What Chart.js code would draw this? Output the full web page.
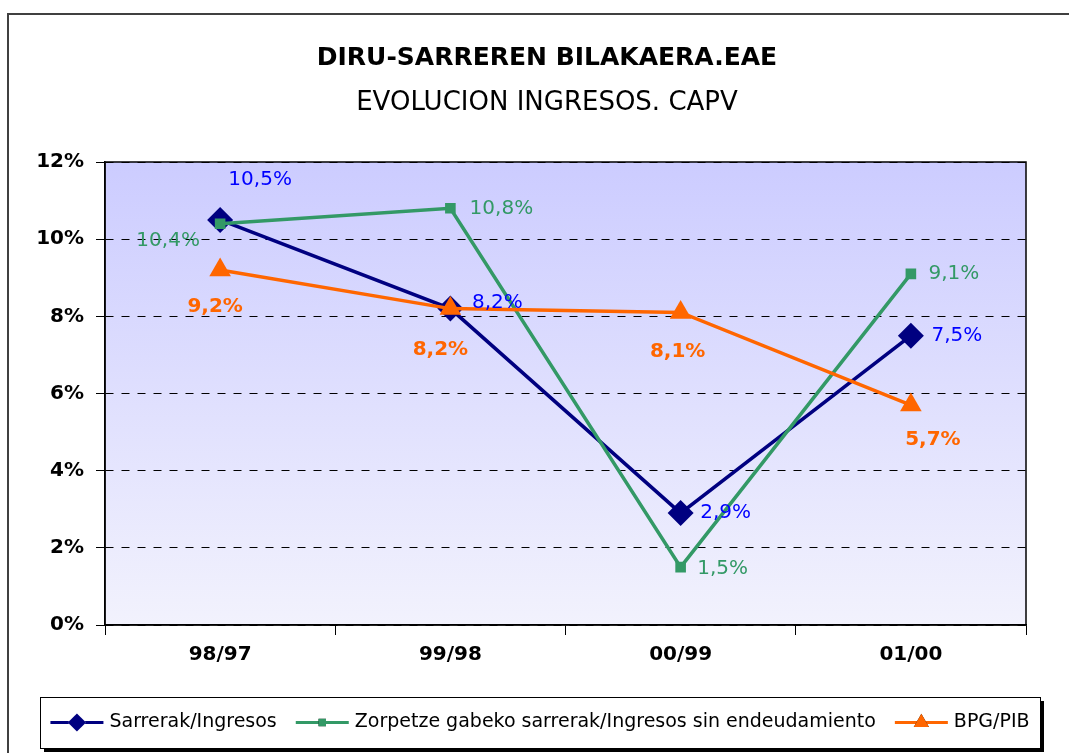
<!DOCTYPE html>
<html>
<head>
<meta charset="utf-8">
<script src="https://cdn.jsdelivr.net/npm/chart.js@4.4.0/dist/chart.umd.min.js"></script>
<style>
  body { margin: 0; background: #fff; }
  canvas { display: block; }
</style>
</head>
<body>
<canvas id="lineChart" width="1069" height="753"></canvas>
<script>
// Chart data

const categories = ['98/97', '99/98', '00/99', '01/00'];
const sarrerak = [10.5, 8.2, 2.9, 7.5];
const zorpetzeGabe = [10.4, 10.8, 1.5, 9.1];
const bpgPib = [9.2, 8.2, 8.1, 5.7];
const seriesNames = [
    'Sarrerak/Ingresos',
    'Zorpetze gabeko sarrerak/Ingresos sin endeudamiento',
    'BPG/PIB',
];
const yTicks = [0, 2, 4, 6, 8, 10, 12];
const titleText = 'DIRU-SARREREN BILAKAERA.EAE';
const subtitleText = 'EVOLUCION INGRESOS. CAPV';

const FONT = "'DejaVu Sans', sans-serif";

// label offsets (px) relative to each point, per dataset
const labelOffsets = [
    [[40, -40], [47, -6], [45, 0], [46, 0]],
    [[-52, 17], [51, 0], [42, 2], [43, 0]],
    [[-5, 37], [-10, 41], [-3, 39], [22, 35]],
];
const labelStyles = [
    { color: '#0000FF', weight: 'normal' },
    { color: '#339966', weight: 'normal' },
    { color: '#FF6600', weight: 'bold' },
];

function fmt(v) {
    return v.toFixed(1).replace('.', ',') + '%';
}

const backgroundPlugin = {
    id: 'background',
    beforeDraw(chart) {
        const { ctx, chartArea: a } = chart;
        ctx.save();
        ctx.fillStyle = '#fff';
        ctx.fillRect(0, 0, chart.width, chart.height);
        const g = ctx.createLinearGradient(0, a.top, 0, a.bottom);
        g.addColorStop(0, '#CCCCFF');
        g.addColorStop(1, '#F2F2FD');
        ctx.fillStyle = g;
        ctx.fillRect(a.left, a.top, a.right - a.left, a.bottom - a.top);
        // outer frame
        ctx.strokeStyle = '#404040';
        ctx.lineWidth = 2;
        ctx.strokeRect(8, 14, 1200, 900);

        // titles
        ctx.fillStyle = '#000';
        ctx.textAlign = 'center';
        ctx.textBaseline = 'middle';
        ctx.font = 'bold 25px ' + FONT;
        ctx.fillText(titleText, 547, 58);
        ctx.font = '26px ' + FONT;
        ctx.fillText(subtitleText, 547, 103);
        ctx.restore();
    },
    beforeDatasetsDraw(chart) {
        const { ctx, chartArea: a } = chart;
        ctx.save();
        ctx.strokeStyle = '#000';
        ctx.lineWidth = 1.5;
        ctx.strokeRect(a.left, a.top, a.right - a.left, a.bottom - a.top);
        ctx.restore();
    }
};

const labelPlugin = {
    id: 'valueLabels',
    afterDatasetsDraw(chart) {
        const ctx = chart.ctx;
        ctx.save();
        ctx.textAlign = 'center';
        ctx.textBaseline = 'middle';
        chart.data.datasets.forEach((ds, di) => {
            const meta = chart.getDatasetMeta(di);
            const st = labelStyles[di];
            ctx.fillStyle = st.color;
            ctx.font = st.weight + ' 20px ' + FONT;
            meta.data.forEach((pt, i) => {
                const off = labelOffsets[di][i];
                ctx.fillText(fmt(ds.data[i]), pt.x + off[0], pt.y + off[1]);
            });
        });
        ctx.restore();
    }
};

const legendPlugin = {
    id: 'boxLegend',
    afterDraw(chart) {
        const ctx = chart.ctx;
        const box = { x: 40, y: 697, w: 1000, h: 51 };
        ctx.save();
        ctx.fillStyle = '#000';
        ctx.fillRect(box.x + 4, box.y + 4, box.w, box.h);
        ctx.fillStyle = '#fff';
        ctx.fillRect(box.x, box.y, box.w, box.h);
        ctx.strokeStyle = '#000';
        ctx.lineWidth = 1;
        ctx.strokeRect(box.x + 0.5, box.y + 0.5, box.w, box.h);

        ctx.font = '19px ' + FONT;
        const lineLen = 53, gapText = 6, gapItem = 19;
        const widths = seriesNames.map(n => ctx.measureText(n).width);
        const total = widths.reduce((s, w) => s + lineLen + gapText + w, 0) + gapItem * (seriesNames.length - 1);
        let x = box.x + (box.w - total) / 2;
        const cy = box.y + box.h / 2;
        chart.data.datasets.forEach((ds, i) => {
            ctx.strokeStyle = ds.borderColor;
            ctx.lineWidth = 3;
            ctx.beginPath();
            ctx.moveTo(x, cy);
            ctx.lineTo(x + lineLen, cy);
            ctx.stroke();
            Chart.helpers.drawPoint(ctx, {
                pointStyle: ds.pointStyle,
                radius: ds.pointRadius * 0.7,
                rotation: 0,
                borderWidth: 0,
            }, x + lineLen / 2, cy);
            ctx.fillStyle = ds.pointBackgroundColor;
            ctx.fill();
            ctx.fillStyle = '#000';
            ctx.textBaseline = 'middle';
            ctx.textAlign = 'left';
            ctx.fillText(seriesNames[i], x + lineLen + gapText, cy);
            x += lineLen + gapText + widths[i] + gapItem;
        });
        ctx.restore();
    }
};

function lineSet(label, data, color, style, radius, order) {
    return {
        label: label,
        data: data,
        borderColor: color,
        backgroundColor: color,
        pointBackgroundColor: color,
        pointBorderColor: color,
        pointBorderWidth: 0,
        pointStyle: style,
        pointRadius: radius,
        pointHoverRadius: radius,
        borderWidth: 3.5,
        tension: 0,
        order: order,
    };
}

const lineChart = new Chart(document.getElementById('lineChart'), {
    type: 'line',
    data: {
        labels: categories,
        datasets: [
            lineSet(seriesNames[0], sarrerak, '#000080', 'rectRot', 13, 3),
            lineSet(seriesNames[1], zorpetzeGabe, '#339966', 'rect', 7.5, 2),
            lineSet(seriesNames[2], bpgPib, '#FF6600', 'triangle', 12.5, 1),
        ],
    },
    options: {
        responsive: false,
        animation: false,
        layout: { padding: { left: 0, right: 43, top: 162, bottom: 68 } },
        plugins: {
            legend: { display: false },
            tooltip: { enabled: false },
            title: { display: false },
        },
        scales: {
            x: {
                offset: true,
                afterFit(scale) { scale.height = 60; },
                grid: {
                    offset: true,
                    drawOnChartArea: false,
                    tickLength: 10,
                    tickColor: '#000',
                },
                border: { color: '#000', width: 1.5 },
                ticks: {
                    color: '#000',
                    padding: 8,
                    font: { family: FONT, size: 20, weight: 'bold' },
                },
            },
            y: {
                min: yTicks[0],
                max: yTicks[yTicks.length - 1],
                afterFit(scale) { scale.width = 105; },
                afterBuildTicks(scale) { scale.ticks = yTicks.map(v => ({ value: v })); },
                grid: {
                    color: '#000',
                    lineWidth: 1,
                    tickLength: 9,
                    tickColor: '#000',
                    tickBorderDash: [],
                },
                border: { color: '#000', width: 1.5, dash: [8, 8] },
                ticks: {
                    color: '#000',
                    padding: 12,
                    font: { family: FONT, size: 20, weight: 'bold' },
                    callback: v => v + '%',
                },
            },
        },
    },
    plugins: [backgroundPlugin, labelPlugin, legendPlugin],
});
</script>
</body>
</html>
